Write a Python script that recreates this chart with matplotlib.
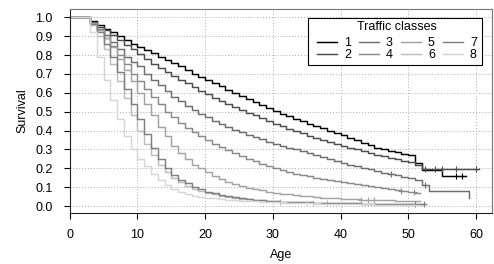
import matplotlib
matplotlib.use("Agg")
import matplotlib.pyplot as plt
from matplotlib.patches import Rectangle
import numpy as np

plt.rcParams['font.family'] = ['Liberation Sans', 'DejaVu Sans']

classes = ["1", "2", "3", "4", "5", "6", "7", "8"]
colors = ["#000000", "#4d4d4d", "#6e6e6e", "#8a8a8a", "#a3a3a3", "#bdbdbd", "#7f7f7f", "#d6d6d6"]

# survival value in force from integer age i to i+1
surv1 = [1, 1, 1, .98, .96, .94, .92, .90, .88, .86, .84, .825, .81, .79, .775, .757, .74, .72, .70, .685,
         .668, .651, .634, .617, .60, .584, .567, .551, .535, .52, .505, .49, .477, .463, .45, .437, .424, .411,
         .399, .387, .376, .362, .348, .335, .322, .31, .30, .292, .285, .277, .27, .226, .19, .19, .19, .159,
         .159, .159, .159]
end1 = 58.5
surv2 = [1, 1, 1, .975, .95, .93, .905, .88, .855, .83, .805, .78, .755, .73, .71, .69, .67, .65, .63, .61,
         .592, .575, .558, .541, .525, .51, .495, .48, .465, .45, .436, .423, .41, .397, .385, .373, .362, .351,
         .34, .33, .32, .31, .30, .29, .281, .272, .263, .255, .247, .24, .233, .215, .196, .196, .196, .196,
         .196, .196, .196, .196, .196]
end2 = 60.5
surv3 = [1, 1, 1, .97, .94, .905, .87, .83, .79, .765, .74, .70, .67, .64, .61, .58, .555, .53, .51, .49,
         .47, .45, .433, .417, .403, .39, .378, .366, .354, .342, .33, .32, .31, .30, .29, .28, .27, .26, .25,
         .24, .23, .22, .212, .204, .195, .185, .177, .17, .162, .155, .148, .138, .11, .08, .08, .08, .08, .08,
         .08, .042]
end3 = 59.0
surv4 = [1, 1, 1, .965, .93, .89, .85, .80, .75, .70, .66, .62, .58, .54, .50, .47, .44, .415, .39, .37,
         .35, .33, .312, .295, .279, .264, .25, .237, .224, .212, .20, .19, .18, .172, .164, .157, .15, .143,
         .137, .131, .125, .12, .115, .11, .105, .10, .095, .09, .085, .08, .075, .068]
end4 = 51.7
surv5 = [1, 1, 1, .97, .93, .89, .84, .78, .72, .66, .60, .54, .48, .42, .37, .32, .28, .25, .22, .20,
         .18, .16, .145, .13, .117, .107, .098, .09, .083, .077, .071, .066, .062, .058, .054, .051, .048, .045,
         .043, .041, .039, .037, .035, .034, .033, .032, .031, .030, .029, .028, .027, .027]
end5 = 51.8
surv6 = [1, 1, 1, .96, .90, .83, .75, .66, .57, .48, .40, .33, .27, .22, .18, .15, .125, .105, .09, .08,
         .07, .062, .055, .049, .044, .04, .036, .033, .03, .028, .026, .024, .022, .021, .02, .019, .018, .017,
         .016, .015, .015, .014, .014, .013, .013, .012, .012, .011, .011, .01, .01, .01, .01]
end6 = 52.5
surv7 = [1, 1, 1, .965, .92, .86, .79, .71, .62, .54, .46, .38, .31, .25, .20, .165, .14, .12, .10, .088,
         .077, .068, .06, .053, .047, .042, .038, .034, .031, .028, .026, .024, .022, .021, .02, .019, .018, .017,
         .016, .015, .015, .014, .014, .013, .013, .012, .012, .011, .011, .01, .01, .01, .01]
end7 = 52.5
surv8 = [1, 1, 1, .92, .79, .67, .56, .46, .37, .30, .25, .21, .17, .14, .11, .09, .075, .065, .055, .05,
         .045, .041, .037, .034, .031, .029, .027, .025, .023, .021, .02, .019, .018, .017, .016, .015, .014,
         .013, .012, .011, .011, .01, .01, .009, .009, .008, .008, .007, .007, .006, .006, .006]
end8 = 51.5

cens1 = [57, 58]
cens2 = [52.5, 54, 55, 57, 60]
cens3 = [47.5, 52.5]
cens4 = [49, 50.8]
cens5 = [43, 44, 45]
cens6 = [31, 36, 38]
cens7 = [51, 52.3]
cens8 = [35]

survs = [surv1, surv2, surv3, surv4, surv5, surv6, surv7, surv8]
ends = [end1, end2, end3, end4, end5, end6, end7, end8]
censs = [cens1, cens2, cens3, cens4, cens5, cens6, cens7, cens8]

W, H = 494, 264
fig = plt.figure(figsize=(W / 100, H / 100), dpi=100)
ax = fig.add_axes([0.1413, 0.193, 0.855, 0.773])

for lab, col, s, e, cs in zip(classes, colors, survs, ends, censs):
    s = np.asarray(s, dtype=float)
    t = np.arange(len(s), dtype=float)
    tt = np.append(t, e)
    ss = np.append(s, s[-1])
    ax.step(tt, ss, where='post', color=col, lw=1.05, label=lab)
    cs = np.asarray(cs, dtype=float)
    idx = np.clip(np.floor(cs).astype(int), 0, len(s) - 1)
    ax.plot(cs, s[idx], ls='none', marker='|', ms=5, mew=0.8, color=col)
    ax.plot(cs, s[idx], ls='none', marker='_', ms=5, mew=0.8, color=col)

ax.set_xlim(0, 62.4)
ax.set_ylim(-0.037, 1.044)
ax.set_xticks(np.arange(0, 61, 10))
ax.set_yticks(np.round(np.arange(0, 1.01, 0.1), 1))
ax.set_yticklabels([f"{v:.1f}" for v in np.arange(0, 1.01, 0.1)])
ax.grid(True, ls=(0, (1, 2)), color='#aaaaaa', lw=0.7)
ax.set_axisbelow(True)
ax.tick_params(labelsize=9, length=4, width=0.8, direction='out')
ax.tick_params(axis='y', pad=8.5)
ax.tick_params(axis='x', pad=7.5)
for sp in ['top', 'right']:
    ax.spines[sp].set_color('#777777')
for sp in ['left', 'bottom']:
    ax.spines[sp].set_color('#222222')
ax.set_xlabel("Age", fontsize=9, labelpad=5.5)
ax.set_ylabel("Survival", fontsize=9, labelpad=4.5)

leg = ax.legend(ncol=4, title="Traffic classes", loc='upper left',
                bbox_to_anchor=(317 / W, 1 - 20.5 / H), bbox_transform=fig.transFigure,
                fontsize=9, title_fontsize=9, frameon=False,
                handlelength=1.6, handletextpad=0.55, columnspacing=0.65, labelspacing=0.0,
                borderpad=0.0, borderaxespad=0.0)
leg._legend_box.sep = 3.5
leg.set_zorder(6)
ax.add_patch(Rectangle((308 / W, 1 - 65 / H), 174 / W, 47 / H, transform=fig.transFigure,
                       facecolor='white', edgecolor='black', lw=0.8, zorder=5, clip_on=False))

fig.savefig("out.png", dpi=100)
